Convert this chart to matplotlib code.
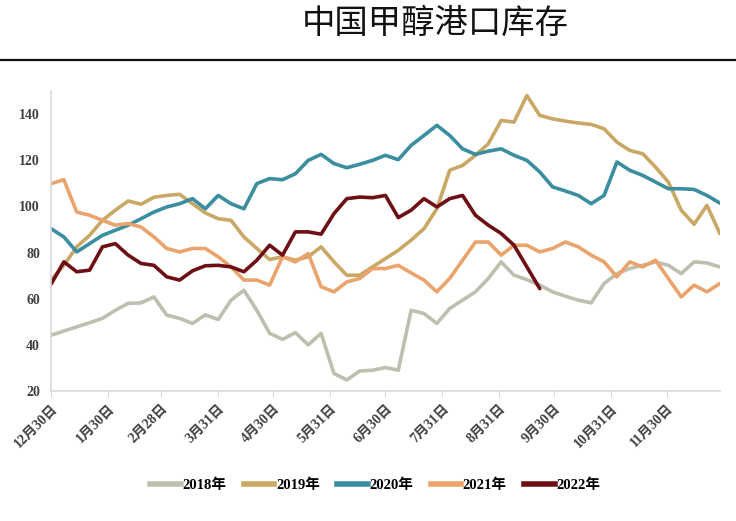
import matplotlib
matplotlib.use("Agg")
import matplotlib.pyplot as plt
from matplotlib.lines import Line2D

plt.rcParams['font.family'] = ['Liberation Serif', 'Noto Sans CJK SC', 'DejaVu Sans']

# days counted from 12/30, weekly readings
days = [0, 7, 14, 21, 28, 35, 42, 49, 56, 63, 70, 77, 84, 91, 98, 105, 112,
        119, 126, 133, 140, 147, 154, 161, 168, 175, 182, 189, 196, 203, 210,
        217, 224, 231, 238, 245, 252, 259, 266, 273, 280, 287, 294, 301, 308,
        315, 322, 329, 336, 343, 350, 357, 364]

y2018 = [44.2, 46.0, 47.8, 49.6, 51.5, 55.0, 58.0, 58.2, 60.8, 52.9, 51.5,
         49.3, 53.0, 51.0, 59.4, 63.7, 55.0, 45.0, 42.4, 45.3, 40.0, 45.0,
         27.6, 24.8, 28.7, 29.0, 30.2, 29.0, 55.0, 53.6, 49.3, 55.8, 59.4,
         63.0, 68.8, 76.0, 70.2, 68.3, 65.9, 63.0, 61.1, 59.4, 58.2, 66.6,
         70.9, 73.1, 74.5, 76.0, 74.5, 70.9, 76.0, 75.5, 73.8]
y2019 = [68.0, 74.5, 82.5, 87.5, 94.0, 98.4, 102.4, 101.0, 104.0, 104.8,
         105.3, 101.2, 97.2, 94.7, 94.0, 86.8, 81.8, 77.0, 78.2, 76.7, 78.2,
         82.5, 76.0, 70.2, 70.2, 73.8, 77.4, 81.0, 85.4, 90.4, 99.0, 115.7,
         117.8, 122.2, 127.2, 137.3, 136.6, 148.1, 139.5, 138.0, 137.0,
         136.2, 135.6, 133.7, 127.9, 124.3, 122.9, 117.1, 110.6, 98.4, 92.3,
         100.5, 88.3]
y2020 = [90.4, 86.8, 80.3, 83.9, 87.5, 89.7, 91.9, 94.7, 97.6, 99.8, 101.2,
         103.4, 99.0, 104.8, 101.2, 99.0, 109.9, 112.1, 111.6, 114.2, 120.0,
         122.6, 118.6, 116.8, 118.3, 120.0, 122.2, 120.3, 126.5, 130.8,
         135.2, 130.8, 125.0, 122.6, 124.0, 125.0, 122.2, 120.0, 115.0,
         108.5, 106.7, 104.8, 101.2, 104.8, 119.3, 115.7, 113.5, 110.6,
         107.7, 107.7, 107.4, 104.8, 101.5]
y2021 = [109.9, 111.6, 97.6, 96.2, 94.0, 91.9, 92.6, 91.1, 86.8, 81.8, 80.3,
         81.8, 81.8, 78.2, 73.8, 68.1, 68.1, 65.9, 78.2, 76.0, 79.6, 65.2,
         63.0, 67.3, 68.8, 73.1, 73.1, 74.5, 71.2, 68.1, 63.0, 68.8, 76.7,
         84.6, 84.6, 78.9, 83.2, 83.2, 80.3, 81.8, 84.6, 82.5, 78.9, 76.0,
         69.5, 76.0, 73.8, 76.7, 68.8, 60.8, 65.9, 63.0, 66.6]
y2022 = [66.3, 76.0, 71.7, 72.4, 82.5, 83.9, 78.9, 75.3, 74.5, 69.5, 68.1,
         72.1, 74.3, 74.5, 73.8, 71.7, 76.7, 83.2, 78.9, 89.0, 89.0, 88.0,
         96.9, 103.4, 104.1, 103.8, 104.8, 95.2, 98.4, 103.4, 99.8, 103.4,
         104.8, 96.2, 91.9, 88.3, 83.2, 73.8, 64.4]

tick_days = [0, 31, 60, 91, 121, 152, 182, 213, 244, 274, 305, 335]
tick_labels = ['12月30日', '1月30日', '2月28日', '3月31日', '4月30日', '5月31日',
               '6月30日', '7月31日', '8月31日', '9月30日', '10月31日', '11月30日']

series = [
    ('2018年', y2018, '#bfbfb0'),
    ('2019年', y2019, '#c9a865'),
    ('2020年', y2020, '#3a8ea0'),
    ('2021年', y2021, '#eba36c'),
    ('2022年', y2022, '#6e0f16'),
]

fig = plt.figure(figsize=(7.36, 5.21), dpi=100)
ax = fig.add_axes([0.0693, 0.2495, 0.9087, 0.5755])

for name, vals, col in series:
    ax.plot(days[:len(vals)], vals, color=col, lw=2.6, label=name,
            solid_joinstyle='round', solid_capstyle='round')

ax.set_xlim(0, 364)
ax.set_ylim(20, 150)
ax.set_yticks(range(20, 150, 20))
ax.set_xticks(tick_days)
ax.set_xticklabels(tick_labels, rotation=45, ha='right', rotation_mode='anchor')
for lab in ax.get_xticklabels() + ax.get_yticklabels():
    lab.set_fontweight('bold')
    lab.set_fontsize(10)
    lab.set_color('#404040')

for s in ['top', 'right']:
    ax.spines[s].set_visible(False)
for s in ['left', 'bottom']:
    ax.spines[s].set_color('#d9d9d9')
    ax.spines[s].set_linewidth(1.2)
ax.tick_params(axis='y', length=0, pad=8)
ax.tick_params(axis='x', length=4, color='#d9d9d9', pad=4)

handles = [Line2D([], [], color=c, lw=4) for _, _, c in series]
fig.legend(handles, [n for n, _, _ in series], loc='center',
           bbox_to_anchor=(0.51, 0.069), ncol=5, frameon=False,
           handlelength=2.1, handletextpad=0.1, columnspacing=1.2,
           prop={'weight': 'bold', 'size': 10.5})

fig.text(0.591, 0.955, '中国甲醇港口库存', ha='center', va='center',
         fontsize=24, family=['Noto Sans CJK SC'], color='#111111')
fig.add_artist(Line2D([0, 1], [0.885, 0.885], color='#111111', lw=1.6,
                      transform=fig.transFigure))

fig.savefig('out.png', dpi=100)
